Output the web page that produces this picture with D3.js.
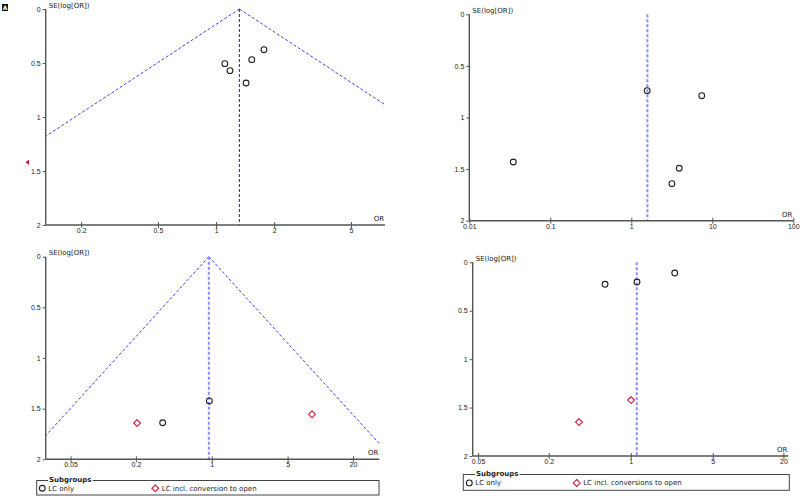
<!DOCTYPE html>
<html>
<head>
<meta charset="utf-8">
<script src="https://cdn.jsdelivr.net/npm/d3@7"></script>
<style>
  html, body { margin: 0; padding: 0; background: #fff; }
  svg { display: block; font-family: "DejaVu Sans", Verdana, sans-serif; }
</style>
</head>
<body>
<svg id="chart" width="800" height="496"></svg>
<script>
// ---------- DATA ----------
const seTicks = [0, 0.5, 1, 1.5, 2];

// Panel A
const aOR = [1.11, 1.18, 1.43, 1.53, 1.77];
const aSE = [0.506, 0.571, 0.685, 0.469, 0.377];
const aPooled = 1.32;
const aTicks = [0.2, 0.5, 1, 2, 5];
const aOffScaleSE = [1.42];   // study plotted off the left edge (red arrow)

// Panel B
const bOR = [1.57, 7.4, 0.0349, 3.91, 3.17];
const bSE = [0.740, 0.789, 1.431, 1.492, 1.641];
const bPooled = 1.58;
const bTicks = [0.01, 0.1, 1, 10, 100];

// Panel C
const cOR = [0.95, 0.353, 0.205, 8.4];
const cSE = [1.424, 1.639, 1.642, 1.556];
const cGroup = [0, 0, 1, 1];
const cPooled = 0.94;
const cTicks = [0.05, 0.2, 1, 5, 20];
const cLegend = ["LC only", "LC incl. conversion to open"];

// Panel D
const dOR = [0.604, 1.13, 2.37, 1.006, 0.362];
const dSE = [0.227, 0.204, 0.111, 1.423, 1.650];
const dGroup = [0, 0, 0, 1, 1];
const dPooled = 1.125;
const dTicks = [0.05, 0.2, 1, 5, 20];
const dLegend = ["LC only", "LC incl. conversions to open"];

// ---------- DRAWING ----------
const svg = d3.select("#chart");
const FS = 7;
const AXIS_COL = "#555";

function fmt(d) { return String(d); }

function panel(cfg) {
  const g = svg.append("g");
  const x = d3.scaleLog().domain(cfg.xDomain).range(cfg.xRange);
  const y = d3.scaleLinear().domain([0, 2]).range(cfg.yRange);
  const clipId = "clip" + cfg.id;
  svg.append("clipPath").attr("id", clipId).append("rect")
    .attr("x", cfg.xRange[0]).attr("y", cfg.yRange[0] - 1)
    .attr("width", cfg.xRange[1] - cfg.xRange[0])
    .attr("height", cfg.yRange[1] - cfg.yRange[0] + 1);

  // funnel
  if (cfg.funnel) {
    const line = d3.line().x(d => x(d[0])).y(d => y(d[1]));
    const lo = [[cfg.pooled, 0], [cfg.pooled * Math.exp(-1.96 * 2), 2]];
    const hi = [[cfg.pooled, 0], [cfg.pooled * Math.exp(1.96 * 2), 2]];
    [lo, hi].forEach(p => {
      g.append("path").attr("d", line(p)).attr("clip-path", `url(#${clipId})`)
        .attr("fill", "none").attr("stroke", "#3a46e0").attr("stroke-width", 1)
        .attr("stroke-dasharray", "3,2");
    });
  }
  // pooled vertical line
  g.append("line")
    .attr("x1", x(cfg.pooled)).attr("x2", x(cfg.pooled))
    .attr("y1", y(0)).attr("y2", y(2))
    .attr("stroke", cfg.vColor).attr("stroke-width", cfg.vWidth)
    .attr("stroke-dasharray", cfg.vDash);

  // y axis
  const ya = g.append("g").attr("transform", `translate(${cfg.xRange[0]},0)`)
    .call(d3.axisLeft(y).tickValues(seTicks).tickFormat(fmt).tickSize(3).tickPadding(2));
  ya.select(".domain").remove();
  ya.selectAll(".tick line").attr("stroke", AXIS_COL).attr("stroke-width", 1);
  ya.selectAll("text").attr("font-size", FS).attr("fill", "#222").attr("font-family", null);
  g.append("line").attr("x1", cfg.xRange[0]).attr("x2", cfg.xRange[0])
    .attr("y1", cfg.yRange[0]).attr("y2", cfg.yRange[1])
    .attr("stroke", AXIS_COL).attr("stroke-width", 1.4);

  // x axis
  const xa = g.append("g").attr("transform", `translate(0,${cfg.yRange[1]})`)
    .call(d3.axisBottom(x).tickValues(cfg.xTicks).tickFormat(fmt).tickSize(3).tickPadding(0));
  xa.select(".domain").remove();
  xa.selectAll(".tick line").attr("y1", -3).attr("stroke", AXIS_COL).attr("stroke-width", 1);
  xa.selectAll("text").attr("font-size", FS).attr("fill", "#222").attr("font-family", null);
  g.append("line").attr("x1", cfg.xRange[0]).attr("x2", cfg.xRange[1])
    .attr("y1", cfg.yRange[1]).attr("y2", cfg.yRange[1])
    .attr("stroke", AXIS_COL).attr("stroke-width", 1.4);

  // titles
  g.append("text").attr("x", cfg.xRange[0] + 3).attr("y", cfg.yRange[0] - 1.5)
    .attr("font-size", FS).attr("fill", "#222").text("SE(log[OR])");
  g.append("text").attr("x", cfg.xRange[1] - 1).attr("y", cfg.yRange[1] - 4)
    .attr("text-anchor", "end").attr("font-size", FS).attr("fill", "#222").text("OR");

  // points
  cfg.or.forEach((v, i) => {
    const grp = cfg.group ? cfg.group[i] : 0;
    const px = x(v), py = y(cfg.se[i]);
    if (grp === 0) {
      g.append("circle").attr("cx", px).attr("cy", py).attr("r", 2.9)
        .attr("fill", "none").attr("stroke", "#222").attr("stroke-width", 1.1);
    } else {
      const r = 3.4;
      g.append("path")
        .attr("d", `M${px},${py - r}L${px + r},${py}L${px},${py + r}L${px - r},${py}Z`)
        .attr("fill", "none").attr("stroke", "#d0284a").attr("stroke-width", 1.2);
    }
  });

  // legend
  if (cfg.legend) {
    const L = cfg.legendBox;
    const lg = g.append("g");
    lg.append("rect").attr("x", L.x0).attr("y", L.y0)
      .attr("width", L.x1 - L.x0).attr("height", L.y1 - L.y0)
      .attr("fill", "none").attr("stroke", "#444").attr("stroke-width", 1);
    const t = lg.append("text").attr("x", L.tx).attr("y", L.y0 + 1)
      .attr("font-size", FS).attr("font-weight", "bold").attr("fill", "#222").text("Subgroups");
    const bb = t.node().getBBox();
    lg.insert("rect", "text").attr("x", bb.x - 1).attr("y", L.y0 - 1)
      .attr("width", bb.width + 2).attr("height", 2).attr("fill", "#fff");
    const cy = (L.y0 + L.y1) / 2 + 0.5;
    lg.append("circle").attr("cx", L.c1).attr("cy", cy).attr("r", 2.9)
      .attr("fill", "none").attr("stroke", "#222").attr("stroke-width", 1.1);
    lg.append("text").attr("x", L.c1 + 6).attr("y", cy + 2.5).attr("font-size", FS)
      .attr("fill", "#222").text(cfg.legend[0]);
    const r = 3.4;
    lg.append("path")
      .attr("d", `M${L.c2},${cy - r}L${L.c2 + r},${cy}L${L.c2},${cy + r}L${L.c2 - r},${cy}Z`)
      .attr("fill", "none").attr("stroke", "#d0284a").attr("stroke-width", 1.2);
    lg.append("text").attr("x", L.c2 + 6.5).attr("y", cy + 2.5).attr("font-size", FS)
      .attr("fill", "#222").text(cfg.legend[1]);
  }
  return { g, x, y };
}

const pA = panel({
  id: "A", or: aOR, se: aSE, pooled: aPooled, xTicks: aTicks,
  xDomain: [0.131, 7.5], xRange: [45.7, 385], yRange: [9, 225],
  funnel: true, vColor: "#2a2a55", vWidth: 1, vDash: "3,2"
});
// off-scale indicator in panel A
aOffScaleSE.forEach(s => {
  const yy = pA.y(s);
  pA.g.append("path").attr("d", `M25.5,${yy}L29,${yy - 2.5}L29,${yy + 2.5}Z`).attr("fill", "#c0102a");
});
// panel label A
svg.append("rect").attr("x", 2).attr("y", 4).attr("width", 6).attr("height", 7).attr("fill", "#111");
svg.append("text").attr("x", 5).attr("y", 10).attr("text-anchor", "middle")
  .attr("font-size", 6).attr("font-weight", "bold").attr("fill", "#fff").text("A");

panel({
  id: "B", or: bOR, se: bSE, pooled: bPooled, xTicks: bTicks,
  xDomain: [0.01, 100], xRange: [469.3, 793.3], yRange: [14.3, 220.7],
  funnel: false, vColor: "#8c8cff", vWidth: 2, vDash: "3,2"
});

panel({
  id: "C", or: cOR, se: cSE, group: cGroup, pooled: cPooled, xTicks: cTicks,
  xDomain: [0.0295, 35], xRange: [45.7, 379.3], yRange: [256.7, 459.3],
  funnel: true, vColor: "#8c8cff", vWidth: 2, vDash: "3,2",
  legend: cLegend,
  legendBox: { x0: 36.7, x1: 379, y0: 480.5, y1: 495, tx: 49, c1: 42.3, c2: 155.3 }
});

panel({
  id: "D", or: dOR, se: dSE, group: dGroup, pooled: dPooled, xTicks: dTicks,
  xDomain: [0.045, 22], xRange: [472.7, 788.3], yRange: [262.3, 456],
  funnel: false, vColor: "#8c8cff", vWidth: 2, vDash: "3,2",
  legend: dLegend,
  legendBox: { x0: 463.3, x1: 789.3, y0: 474.5, y1: 490.3, tx: 476, c1: 469.3, c2: 576.7 }
});
</script>
</body>
</html>
